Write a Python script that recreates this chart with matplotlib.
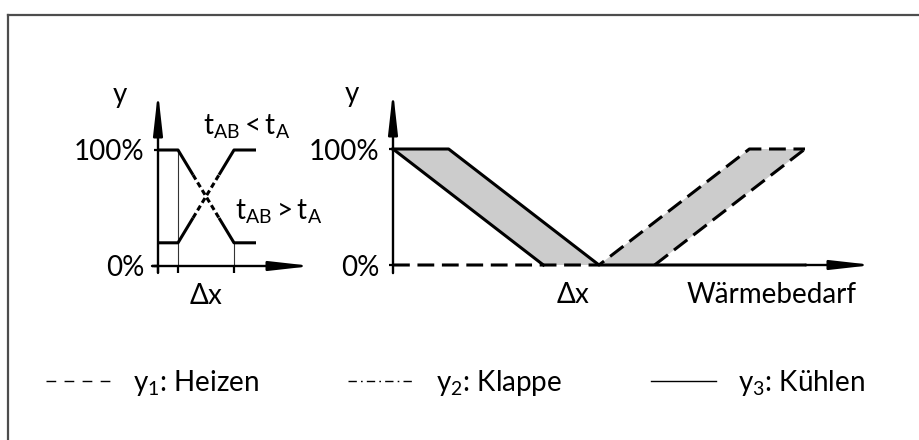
import numpy as np
import matplotlib
matplotlib.use("Agg")
import matplotlib.pyplot as plt
from matplotlib.lines import Line2D

plt.rcParams["font.family"] = ["Lato", "DejaVu Sans"]
plt.rcParams["mathtext.fontset"] = "custom"
plt.rcParams["mathtext.rm"] = "Lato"
plt.rcParams["mathtext.it"] = "Lato"

W, H = 920, 440
FS = 20
GRAY = "#cccccc"

# left chart: valve outputs across the band dx
dx_lo, dx_hi = 1.0, 3.8
low_level = 20
mix_x = [0, dx_lo, dx_hi, 4.9]
mix_fall = [100, 100, low_level, low_level]
mix_rise = [low_level, low_level, 100, 100]
mix_dash = (1.75, 3.05)  # dashed part around the crossing

# right chart: outputs over heat demand (0..100)
cool_outer_x = [0, 13.5, 50, 100]
cool_outer_y = [100, 100, 0, 0]
cool_inner_x = [0, 36.5]
cool_inner_y = [100, 0]
heat_outer_x = [0, 50, 86.5, 100]
heat_outer_y = [0, 0, 100, 100]
heat_inner_x = [63.5, 100]
heat_inner_y = [0, 100]
dx_mark = 43.7

yticks = [0, 100]
yticklabels = ["0%", "100%"]

legend_labels = [r"$\mathregular{y_1}$: Heizen",
                 r"$\mathregular{y_2}$: Klappe",
                 r"$\mathregular{y_3}$: Kühlen"]


def axes_at(fig, x0_px, sx, y0_px, sy, xlim, ylim):
    """place an axes so that data (0, 0) lands on pixel (x0_px, y0_px)"""
    left = x0_px + xlim[0] * sx
    bottom = y0_px - ylim[0] * sy
    rect = [left / W, 1 - bottom / H,
            (xlim[1] - xlim[0]) * sx / W, (ylim[1] - ylim[0]) * sy / H]
    ax = fig.add_axes(rect)
    ax.set_xlim(xlim)
    ax.set_ylim(ylim)
    ax.patch.set_visible(False)
    for side in ("top", "right"):
        ax.spines[side].set_visible(False)
    for side in ("left", "bottom"):
        ax.spines[side].set_position(("data", 0))
        ax.spines[side].set_visible(False)
    ax.set_yticks(yticks, yticklabels, fontsize=FS)
    ax.tick_params(axis="y", length=3, width=1.6, pad=7)
    return ax


def arrow(ax, start, end):
    ax.annotate("", xy=end, xytext=start, annotation_clip=False,
                arrowprops=dict(arrowstyle="-|>,head_length=2.5,head_width=0.28",
                                mutation_scale=10, lw=1.7, color="black",
                                shrinkA=0, shrinkB=0))


def split_dashed(x, y, a, b):
    xa, xb = np.interp([a, b], x, y)
    left = ([v for v in x if v < a] + [a], [w for v, w in zip(x, y) if v < a] + [xa])
    mid = ([a, b], [xa, xb])
    right = ([b] + [v for v in x if v > b], [xb] + [w for v, w in zip(x, y) if v > b])
    return left, mid, right


fig = plt.figure(figsize=(W / 100, H / 100), dpi=100)

# ---- left chart
ax1 = axes_at(fig, 158, 20, 266, 1.16, (-2.5, 8.0), (-45, 160))
ax1.set_xticks([0, dx_lo, dx_hi], [])
ax1.tick_params(axis="x", length=5, width=1.6, direction="out")
ax1.plot([-0.3, 0], [0, 0], color="black", lw=1.7, solid_capstyle="butt")
arrow(ax1, (-0.3, 0), (7.7, 0))
arrow(ax1, (0, -6), (0, 150))
ax1.plot([dx_lo, dx_lo], [0, 100], color="#333333", lw=0.8)
ax1.plot([dx_hi, dx_hi], [0, low_level], color="#333333", lw=0.8)
for ys in (mix_fall, mix_rise):
    left, mid, right = split_dashed(mix_x, ys, *mix_dash)
    ax1.plot(*left, color="black", lw=2.2, solid_capstyle="butt")
    ax1.plot(*mid, color="black", lw=2.2, linestyle=(0, (1.8, 1.1)))
    ax1.plot(*right, color="black", lw=2.2, solid_capstyle="butt")
ax1.text(-1.9, 147, "y", fontsize=FS, ha="center", va="center")
ax1.text((dx_lo + dx_hi) / 2, -32.8, r"$\Delta$x", fontsize=FS, ha="center",
         va="baseline")
ax1.text(2.25, 113, r"$\mathregular{t_{AB} < t_A}$", fontsize=FS, va="baseline")
ax1.text(3.85, 40, r"$\mathregular{t_{AB} > t_A}$", fontsize=FS, va="baseline")

# ---- right chart
ax2 = axes_at(fig, 393, 4.12, 265, 1.16, (-8, 120), (-45, 160))
ax2.set_xticks([])
ax2.fill(cool_outer_x[:3] + cool_inner_x[::-1], cool_outer_y[:3] + cool_inner_y[::-1],
         color=GRAY, lw=0, zorder=1)
ax2.fill(heat_outer_x[1:] + heat_inner_x[::-1], heat_outer_y[1:] + heat_inner_y[::-1],
         color=GRAY, lw=0, zorder=1)
arrow(ax2, (cool_outer_x[-1], 0), (116.5, 0))
arrow(ax2, (0, -7), (0, 150))
dash = (0, (5.5, 2.5))
ax2.plot(cool_outer_x, cool_outer_y, color="black", lw=2.2, zorder=3)
ax2.plot(cool_inner_x, cool_inner_y, color="black", lw=2.2, zorder=3)
ax2.plot(heat_outer_x, heat_outer_y, color="black", lw=2.2, linestyle=dash, zorder=3)
ax2.plot(heat_inner_x, heat_inner_y, color="black", lw=2.2, linestyle=dash, zorder=3)
ax2.text(-10, 147, "y", fontsize=FS, ha="center", va="center")
ax2.text(dx_mark, -32.8, r"$\Delta$x", fontsize=FS, ha="center", va="baseline")
ax2.text(92, -32.8, "Wärmebedarf", fontsize=FS, ha="center", va="baseline")

# ---- legend
handles = [Line2D([], [], color="black", lw=1.0, linestyle=(0, (7, 6))),
           Line2D([], [], color="black", lw=1.0, linestyle=(0, (6, 3, 1.2, 3))),
           Line2D([], [], color="black", lw=1.0)]
fig.legend(handles, legend_labels, loc="center", bbox_to_anchor=(0.495, 0.13),
           ncol=3, frameon=False, fontsize=FS, handlelength=2.35,
           handletextpad=0.8, columnspacing=3.2)

# ---- frame (open to the right and bottom)
frame = dict(color="#4d4d4d", lw=1.6, transform=fig.transFigure)
fig.add_artist(Line2D([8 / W, 8 / W], [0, 1 - 15 / H], **frame))
fig.add_artist(Line2D([8 / W, 1], [1 - 15 / H, 1 - 15 / H], **frame))

fig.savefig("out.png", dpi=100)
